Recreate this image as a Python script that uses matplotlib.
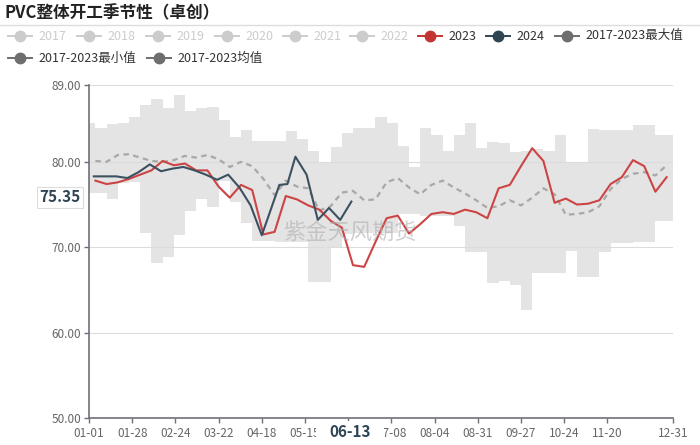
import datetime as dt
import numpy as np
import matplotlib
matplotlib.use("Agg")
import matplotlib.pyplot as plt
from matplotlib.lines import Line2D
from matplotlib.patches import Rectangle

plt.rcParams['font.family'] = ['Noto Sans CJK SC', 'DejaVu Sans']

# ---------------------------------------------------------------- data
# x axis is day of year (leap-year calendar, 0 = 01-01, 365 = 12-31)
days_2023 = [4 + 7 * i for i in range(52)]
vals_2023 = [77.8, 77.4, 77.6, 78.0, 78.5, 79.0, 80.1, 79.6, 79.8, 79.0,
             79.0, 77.1, 75.8, 77.3, 76.7, 71.5, 71.8, 76.0, 75.6, 74.9,
             74.4, 73.1, 72.3, 67.9, 67.7, 70.6, 73.4, 73.7, 71.6, 72.7,
             73.9, 74.1, 73.9, 74.4, 74.1, 73.4, 76.9, 77.3, 79.5, 81.6,
             80.1, 75.2, 75.7, 75.0, 75.1, 75.5, 77.4, 78.2, 80.2, 79.5,
             76.5, 78.2]

days_2024 = [3, 10, 17, 24, 31, 38, 45, 52, 59, 66, 73, 80, 87, 94, 101, 108,
             119, 124, 129, 136, 143, 150, 157, 164]
vals_2024 = [78.3, 78.3, 78.3, 78.1, 78.8, 79.7, 78.9, 79.2, 79.4, 79.0,
             78.5, 77.9, 78.5, 77.0, 74.9, 71.4, 77.3, 77.4, 80.6, 78.5,
             73.2, 74.6, 73.2, 75.35]

vals_mean = [80.1, 80.0, 80.8, 80.9, 80.5, 80.1, 80.0, 80.2, 80.7, 80.5,
             80.8, 80.3, 79.4, 80.0, 79.5, 78.0, 76.1, 77.8, 77.1, 76.9,
             74.3, 74.8, 76.4, 76.6, 75.5, 75.6, 77.6, 78.1, 77.0, 76.2,
             77.3, 77.8, 77.0, 76.3, 75.5, 74.6, 74.8, 75.5, 74.9, 75.8,
             76.9, 76.2, 73.8, 73.9, 74.1, 74.8, 76.8, 78.0, 78.6, 78.8,
             78.4, 79.6]

# min / max band, one value per weekly step
band_edges = [0] + days_2023 + [365]
band_max = [84.5, 84.0, 84.4, 84.6, 85.2, 86.6, 87.4, 86.3, 87.8, 85.9,
            86.3, 86.4, 84.9, 82.9, 83.7, 82.5, 82.4, 82.4, 83.6, 82.7,
            81.3, 80.0, 81.7, 83.4, 84.0, 84.0, 85.2, 84.5, 81.9, 79.4,
            84.0, 83.1, 81.3, 83.1, 84.5, 81.6, 82.3, 82.2, 81.1, 81.3,
            81.5, 81.3, 83.1, 79.9, 79.9, 83.9, 83.7, 83.7, 83.7, 84.3,
            84.3, 83.2, 83.2]
band_min = [76.3, 76.3, 75.7, 77.5, 77.6, 71.7, 68.2, 68.8, 71.4, 74.2,
            75.7, 74.7, 77.8, 75.3, 72.8, 70.7, 70.7, 70.6, 70.6, 70.6,
            65.9, 65.9, 70.0, 71.5, 71.7, 71.7, 71.7, 71.7, 73.9, 73.9,
            73.7, 73.7, 73.7, 72.5, 69.4, 69.4, 65.8, 66.1, 65.6, 62.6,
            67.0, 67.0, 67.0, 69.6, 66.5, 66.5, 69.4, 70.5, 70.5, 70.6,
            70.6, 73.1, 73.1]

tick_days = [0, 27, 54, 81, 108, 135, 162, 189, 216, 243, 270, 297, 324, 365]
y_ticks = [50, 60, 70, 80, 89]

legend_row1 = ['2017', '2018', '2019', '2020', '2021', '2022', '2023', '2024',
               '2017-2023最大值']
legend_row2 = ['2017-2023最小值', '2017-2023均值']

# ---------------------------------------------------------------- figure
W, H = 700, 445
fig = plt.figure(figsize=(7, 4.45), dpi=100)

def fx(px):
    return px / W

def fy(py):
    return 1 - py / H

ax = fig.add_axes([fx(89), fy(418), fx(673) - fx(89), fy(85) - fy(418)])

red = '#c23531'
navy = '#2f4554'
grey = '#6e6e6e'
axis_col = '#6e7079'

ax.fill_between(band_edges, band_min + [band_min[-1]], band_max + [band_max[-1]],
                step='post', color='#e4e4e4', lw=0, zorder=1)
for y in y_ticks[1:]:
    ax.axhline(y, color='#dcdcdc', lw=0.8, zorder=2)

ax.plot(days_2023, vals_mean, color='#a8a8a8', lw=1.6, ls=(0, (2.5, 2)), zorder=3)
ax.plot(days_2023, vals_2023, color='#cc4444', lw=1.5, zorder=4)
ax.plot(days_2024, vals_2024, color='#3c5160', lw=1.5, zorder=5)

ax.set_xlim(0, 365)
ax.set_ylim(50, 89)
ax.set_yticks(y_ticks)
ax.set_yticklabels(['{:.2f}'.format(v) for v in y_ticks])
ax.set_xticks(tick_days)
# the 06-11 label sits fully under the 06-13 pointer label, so leave it empty
xlabels = [(dt.date(2024, 1, 1) + dt.timedelta(days=d)).strftime('%m-%d')
           for d in tick_days]
xlabels[tick_days.index(162)] = ''
ax.set_xticklabels(xlabels)
for s in ['top', 'right']:
    ax.spines[s].set_visible(False)
for s in ['left', 'bottom']:
    ax.spines[s].set_color(axis_col)
    ax.spines[s].set_linewidth(1.2)
ax.tick_params(axis='both', colors=axis_col, labelcolor='#666666', length=3.5,
               width=1, labelsize=8.5)
ax.tick_params(axis='x', pad=3)
ax.tick_params(axis='y', pad=2)

# watermark
fig.text(fx(350), fy(233), '紫金天风期货', fontsize=16, color='#b0b0b0', alpha=0.6,
         ha='center', va='center', zorder=10)

# axis pointer labels
fig.add_artist(Rectangle((fx(316), fy(444)), fx(384) - fx(316), fy(421) - fy(444),
                         transform=fig.transFigure, facecolor='white',
                         edgecolor='none', zorder=5))
fig.text(fx(350), fy(432), '06-13', fontsize=11, fontweight='bold', color=navy,
         ha='center', va='center', zorder=6)
fig.add_artist(Rectangle((fx(37), fy(208)), fx(83) - fx(37), fy(187) - fy(208),
                         transform=fig.transFigure, facecolor='white',
                         edgecolor='#dddddd', lw=0.8, zorder=5))
fig.text(fx(60), fy(197.5), '75.35', fontsize=11, fontweight='bold', color=navy,
         ha='center', va='center', zorder=6)

# title
fig.text(fx(5), fy(13), 'PVC整体开工季节性（卓创）', fontsize=12, fontweight='bold',
         color='#222222', ha='left', va='center')
fig.add_artist(Line2D([0, 1], [fy(25), fy(25)], transform=fig.transFigure,
                      color='#dddddd', lw=1))

# legend
row1_x = [20, 89, 158, 227, 295, 362, 430, 498, 567]
row1_col = ['#cccccc'] * 6 + [red, navy, grey]
row2_x = [20, 159]
row2_col = [grey, grey]

def legend_item(cx, cy, label, col):
    txt_col = '#cccccc' if col == '#cccccc' else '#333333'
    fig.add_artist(Line2D([fx(cx - 12), fx(cx + 12)], [fy(cy), fy(cy)],
                          transform=fig.transFigure, color=col, lw=1.4))
    fig.add_artist(Line2D([fx(cx)], [fy(cy)], transform=fig.transFigure,
                          marker='o', markersize=7.5, color=col, lw=0))
    fig.text(fx(cx + 18), fy(cy), label, fontsize=9, color=txt_col,
             ha='left', va='center')

for cx, lab, col in zip(row1_x, legend_row1, row1_col):
    legend_item(cx, 36, lab, col)
for cx, lab, col in zip(row2_x, legend_row2, row2_col):
    legend_item(cx, 58, lab, col)

fig.savefig('out.png', dpi=100)
